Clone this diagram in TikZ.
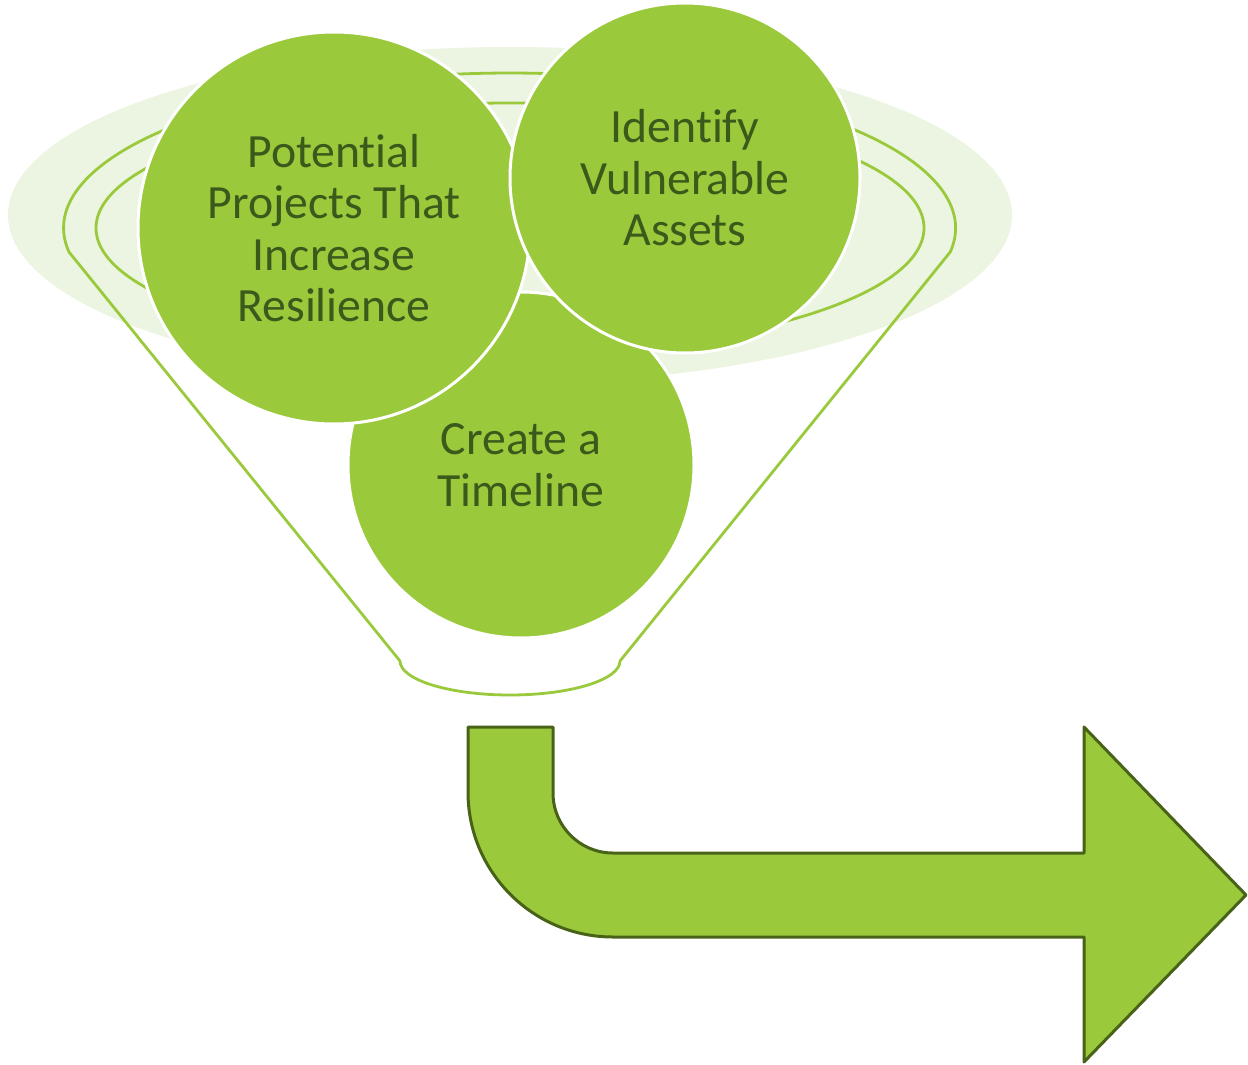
\documentclass[tikz,border=0pt]{standalone}
\usepackage{fontspec}
\setmainfont{Carlito}[Ligatures=NoCommon]
\definecolor{leaf}{RGB}{154,202,60}
\definecolor{pale}{RGB}{235,245,226}
\definecolor{darktext}{RGB}{58,90,28}
\definecolor{darkedge}{RGB}{72,98,24}
\tikzset{
  bubble/.style={circle, fill=leaf, draw=white, line width=3pt, inner sep=0pt},
  bubbletext/.style={align=center, text=darktext, font=\fontsize{47.7}{51.5}\selectfont, inner sep=0pt},
  rim/.style={draw=leaf, line width=2.8pt},
  bentarrow/.style={fill=leaf, draw=darkedge, line width=3pt, line join=round}
}
\begin{document}
\begin{tikzpicture}[x=1pt,y=-1pt]
\useasboundingbox (0,0) rectangle (1248,1065);
% background glow ellipse
\fill[pale] (510,215) ellipse [x radius=502, y radius=168];
% inner rim of funnel
\draw[rim] (510,228) ellipse [x radius=414, y radius=125];
% funnel outline
\draw[rim, line join=round] (400,661) -- (69,252)
  arc[start angle=171.1, end angle=368.9, x radius=446, y radius=155]
  -- (620,661)
  arc[start angle=0, end angle=180, x radius=110, y radius=34];
% circles
\node[bubble, minimum size=346pt] (timeline) at (521,465) {};
\node[bubble, minimum size=392pt] (projects) at (334,228) {};
\node[bubble, minimum size=350pt] (assets) at (685,178) {};
\node[bubbletext] (timelinetext) at (timeline.center) {Create a\\Timeline};
\node[bubbletext] (projectstext) at (projects.center) {Potential\\Projects That\\Increase\\Resilience};
\node[bubbletext] (assetstext) at (assets.center) {Identify\\Vulnerable\\Assets};
% bent arrow
\draw[bentarrow] (468,727) -- (468,792)
  arc[start angle=180, end angle=90, radius=145]
  -- (1084,937) -- (1084,1062) -- (1246,895) -- (1084,727) -- (1084,853)
  -- (613,853)
  arc[start angle=90, end angle=180, radius=60]
  -- (553,727) -- cycle;
\end{tikzpicture}
\end{document}
